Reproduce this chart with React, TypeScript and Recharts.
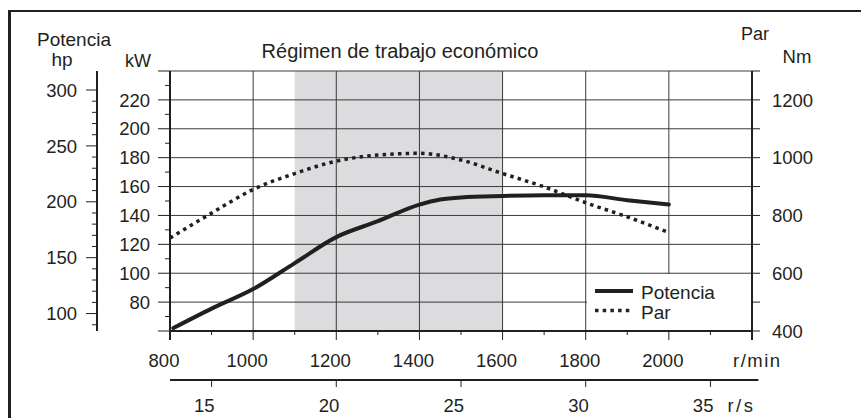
import React from 'react';
import { ComposedChart, Line, XAxis, YAxis, ReferenceArea, ReferenceLine } from 'recharts';

const INK = '#231f20';
const GRID = '#3a3a3a';
const SHADE = '#dcdcde';
const FONT = '"Liberation Sans", Arial, Helvetica, sans-serif';

// engine speed, r/min
const rpmTicks = [800, 900, 1000, 1100, 1200, 1300, 1400, 1500, 1600, 1700, 1800, 1900, 2000, 2100, 2200];
const rpmLabels = [800, 1000, 1200, 1400, 1600, 1800, 2000];
const rpmGrid = [1000, 1200, 1400, 1600, 1800, 2000];
const rpmUnit = 'r/min';

// engine speed, r/s (second scale under the chart)
const rsTicks = [15, 20, 25, 30, 35];
const rsUnit = 'r/s';

// power kW
const kwTicks = [60, 70, 80, 90, 100, 110, 120, 130, 140, 150, 160, 170, 180, 190, 200, 210, 220, 230, 240];
const kwLabels = [80, 100, 120, 140, 160, 180, 200, 220];
const kwGrid = [80, 100, 120, 140, 160, 180, 200, 220, 240];

// power hp
const hpTicks = [90, 100, 110, 120, 130, 140, 150, 160, 170, 180, 190, 200, 210, 220, 230, 240, 250, 260, 270, 280, 290, 300];
const hpLabels = [100, 150, 200, 250, 300];

// torque Nm
const nmTicks = [400, 500, 600, 700, 800, 900, 1000, 1100, 1200, 1300];
const nmLabels = [400, 600, 800, 1000, 1200];

// economic working range
const ecoRange = [1100, 1600];
const ecoTitle = 'Régimen de trabajo económico';

// series
const potenciaName = 'Potencia';
const potenciaRpm = [808, 900, 1000, 1100, 1200, 1300, 1400, 1450, 1500, 1600, 1700, 1800, 1900, 2000];
const potenciaKw = [62, 75.5, 89, 107, 125, 136, 147.5, 151, 152.5, 153.5, 154, 154, 150.5, 147.5];

const parName = 'Par';
const parRpm = [800, 900, 1000, 1100, 1200, 1300, 1400, 1500, 1600, 1700, 1800, 1900, 2000];
const parNm = [722, 808, 890, 945, 988, 1009, 1015, 992, 945, 899, 844, 795, 741];

const potenciaData = potenciaRpm.map((rpm, i) => ({ rpm, kw: potenciaKw[i] }));
const parData = parRpm.map((rpm, i) => ({ rpm, nm: parNm[i] }));
// r/s ticks placed on the same speed scale (1 r/s = 60 r/min)
const rsTicksRpm = rsTicks.map((v) => v * 60);

const txt = { fill: INK, fontFamily: FONT };

const KwTick = (props: any) => {
  const { x, y, payload } = props;
  const v = payload.value;
  const major = v % 20 === 0;
  return (
    <g>
      <line x1={x - (major ? 12 : 5)} x2={x} y1={y} y2={y} stroke={INK} strokeWidth={1} />
      {kwLabels.includes(v) && (
        <text x={x - 20} y={y} dy="0.36em" textAnchor="end" fontSize={18.5} {...txt}>{v}</text>
      )}
    </g>
  );
};

const HpTick = (props: any) => {
  const { x, y, payload } = props;
  const v = payload.value;
  const major = hpLabels.includes(v);
  return (
    <g>
      <line x1={x - (major ? 11 : 5)} x2={x} y1={y} y2={y} stroke={INK} strokeWidth={1} />
      {major && (
        <text x={x - 20} y={y} dy="0.36em" textAnchor="end" fontSize={18.5} {...txt}>{v}</text>
      )}
    </g>
  );
};

const NmTick = (props: any) => {
  const { x, y, payload } = props;
  const v = payload.value;
  return (
    <g>
      <line x1={x} x2={x + 8} y1={y} y2={y} stroke={INK} strokeWidth={1} />
      {nmLabels.includes(v) && (
        <text x={x + 20} y={y} dy="0.36em" textAnchor="start" fontSize={18.5} {...txt}>{v}</text>
      )}
    </g>
  );
};

const RpmTick = (props: any) => {
  const { x, y, payload } = props;
  const v = payload.value;
  const major = v % 200 === 0;
  return (
    <g>
      <line x1={x} x2={x} y1={y} y2={y + (major ? 9 : 4)} stroke={INK} strokeWidth={v === 800 || v === 2200 ? 2 : 1} />
      {rpmLabels.includes(v) && (
        <text x={x - 6} y={y + 35.7} textAnchor="middle" fontSize={18.5} {...txt}>{v}</text>
      )}
      {v === 2200 && (
        <text x={x - 19} y={y + 35.7} textAnchor="start" fontSize={18.5} letterSpacing={1.5} {...txt}>{rpmUnit}</text>
      )}
    </g>
  );
};

const RsTick = (props: any) => {
  const { x, y, payload } = props;
  const v = payload.value / 60;
  const last = v === rsTicks[rsTicks.length - 1];
  return (
    <g>
      <line x1={x} x2={x} y1={y} y2={y + 7} stroke={INK} strokeWidth={1} />
      <text x={x + 3} y={y + 31.7} textAnchor="end" fontSize={18.5} {...txt}>{v}</text>
      {last && <line x1={x} x2={x + 48} y1={y} y2={y} stroke={INK} strokeWidth={2} />}
      {last && (
        <text x={x + 17} y={y + 31.7} textAnchor="start" fontSize={18.5} letterSpacing={2.5} {...txt}>{rsUnit}</text>
      )}
    </g>
  );
};

export default function App() {
  return (
    <div style={{ position: 'absolute', left: 0, top: 0, width: 861, height: 418, background: '#fff', overflow: 'hidden' }}>
      <div style={{ position: 'absolute', left: 0, top: 0 }}>
        <ComposedChart width={861} height={418} margin={{ top: 71, right: 10, bottom: 3, left: 20 }}>
          <XAxis
            xAxisId="a-rpm"
            dataKey="rpm"
            type="number"
            domain={[800, 2200]}
            allowDataOverflow
            ticks={rpmTicks}
            interval={0}
            height={49}
            tickSize={0}
            tickMargin={0}
            tickLine={false}
            tick={RpmTick}
            axisLine={{ stroke: INK, strokeWidth: 2 }}
          />
          <XAxis
            xAxisId="b-rs"
            dataKey="rpm"
            type="number"
            domain={[800, 2200]}
            allowDataOverflow
            ticks={rsTicksRpm}
            interval={0}
            height={35}
            tickSize={0}
            tickMargin={0}
            tickLine={false}
            tick={RsTick}
            axisLine={{ stroke: INK, strokeWidth: 2 }}
          />
          <YAxis
            yAxisId="a-kw"
            orientation="left"
            type="number"
            domain={[60, 240]}
            allowDataOverflow
            ticks={kwTicks}
            interval={0}
            width={73}
            tickSize={0}
            tickMargin={0}
            tickLine={false}
            tick={KwTick}
            axisLine={{ stroke: INK, strokeWidth: 2 }}
          />
          <YAxis
            yAxisId="b-hp"
            orientation="left"
            type="number"
            domain={[84.4, 317]}
            allowDataOverflow
            ticks={hpTicks}
            interval={0}
            width={77}
            tickSize={0}
            tickMargin={0}
            tickLine={false}
            tick={HpTick}
            axisLine={{ stroke: INK, strokeWidth: 2 }}
          />
          <YAxis
            yAxisId="c-nm"
            orientation="right"
            type="number"
            domain={[400, 1300]}
            allowDataOverflow
            ticks={nmTicks}
            interval={0}
            width={99}
            tickSize={0}
            tickMargin={0}
            tickLine={false}
            tick={NmTick}
            axisLine={{ stroke: INK, strokeWidth: 2 }}
          />

          <ReferenceArea
            xAxisId="a-rpm"
            yAxisId="a-kw"
            x1={ecoRange[0]}
            x2={ecoRange[1]}
            fill={SHADE}
            fillOpacity={1}
            stroke="none"
          />
          {rpmGrid.map((v) => (
            <ReferenceLine key={`vx-${v}`} xAxisId="a-rpm" yAxisId="a-kw" x={v} stroke={GRID} strokeWidth={1} />
          ))}
          {kwGrid.map((v) => (
            <ReferenceLine key={`hy-${v}`} xAxisId="a-rpm" yAxisId="a-kw" y={v} stroke={GRID} strokeWidth={1} />
          ))}

          <Line
            data={parData}
            xAxisId="b-rs"
            yAxisId="c-nm"
            dataKey="nm"
            name={parName}
            type="monotone"
            stroke={INK}
            strokeWidth={3.5}
            strokeDasharray="3.5 4.2"
            dot={false}
            activeDot={false}
            isAnimationActive={false}
          />
          <Line
            data={potenciaData}
            xAxisId="a-rpm"
            yAxisId="a-kw"
            dataKey="kw"
            name={potenciaName}
            type="monotone"
            stroke={INK}
            strokeWidth={4}
            strokeLinecap="round"
            dot={false}
            activeDot={false}
            isAnimationActive={false}
          />
        </ComposedChart>
      </div>

      <svg
        width={861}
        height={418}
        style={{ position: 'absolute', left: 0, top: 0, pointerEvents: 'none' }}
      >
        {/* frame */}
        <line x1={8} x2={861} y1={11} y2={11} stroke={INK} strokeWidth={2} />
        <line x1={9.5} x2={9.5} y1={10} y2={418} stroke={INK} strokeWidth={3} />

        {/* axis titles */}
        <text x={74} y={45.5} textAnchor="middle" fontSize={19} {...txt}>Potencia</text>
        <text x={62} y={66} textAnchor="middle" fontSize={19} {...txt}>hp</text>
        <text x={138} y={66.5} textAnchor="middle" fontSize={18} {...txt}>kW</text>
        <text x={400} y={58} textAnchor="middle" fontSize={20} {...txt}>{ecoTitle}</text>
        <text x={755} y={40} textAnchor="middle" fontSize={18} {...txt}>Par</text>
        <text x={797} y={63.3} textAnchor="middle" fontSize={18.5} {...txt}>Nm</text>

        {/* legend */}
        <rect x={587} y={274} width={164} height={56} fill="#fff" />
        <line x1={595} x2={633} y1={291} y2={291} stroke={INK} strokeWidth={4} />
        <text x={641} y={299.3} fontSize={19} {...txt}>{potenciaName}</text>
        <line x1={595} x2={633} y1={310.5} y2={310.5} stroke={INK} strokeWidth={3.5} strokeDasharray="3.5 4.2" />
        <text x={641} y={319.3} fontSize={19} {...txt}>{parName}</text>
      </svg>
    </div>
  );
}
